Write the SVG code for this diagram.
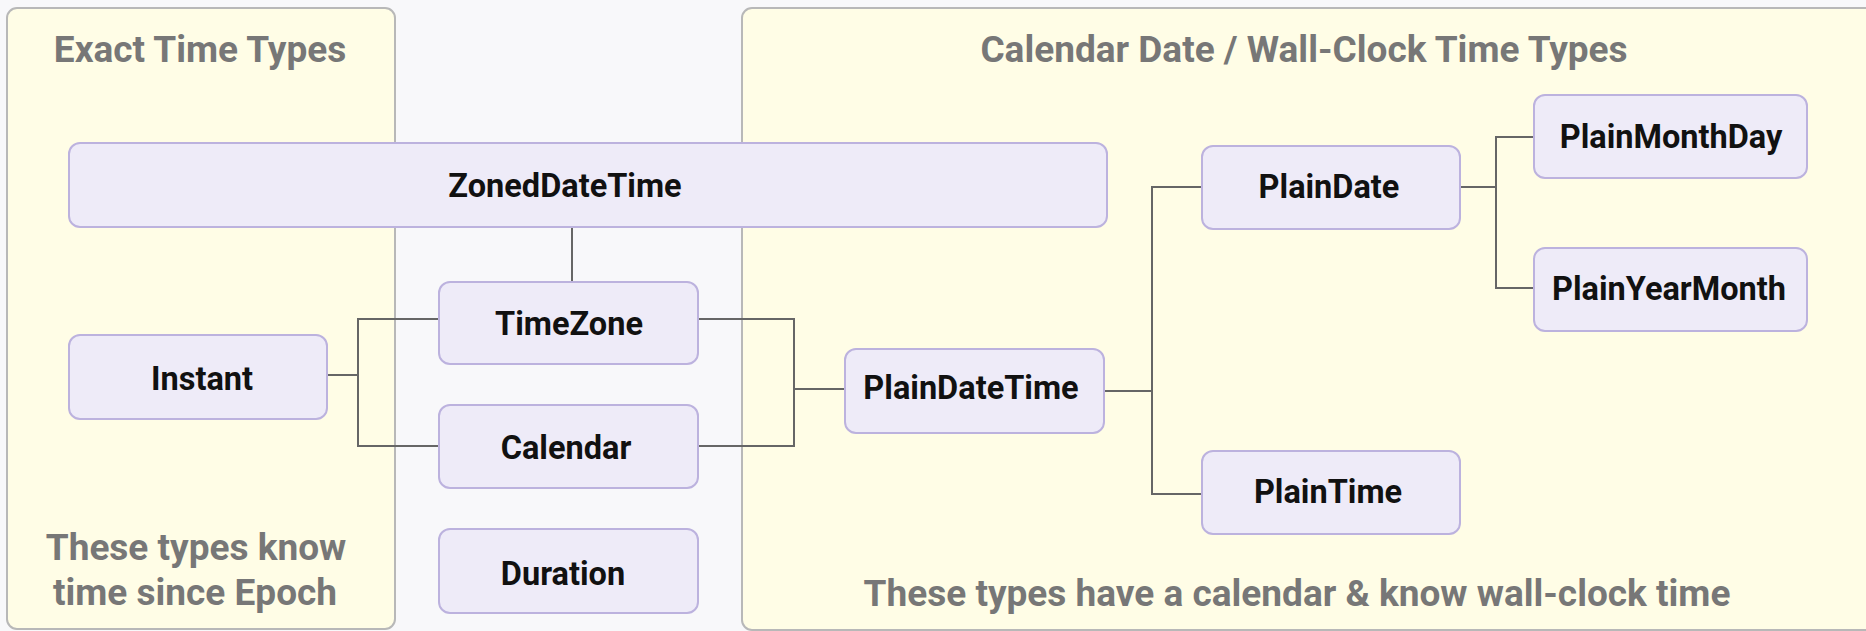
<svg xmlns="http://www.w3.org/2000/svg" width="1866" height="631" viewBox="0 0 1866 631">
  <style>
    .bg { fill: #f8f8fa; }
    .panel { fill: #fffde6; stroke: #b8b8b8; stroke-width: 2; }
    .panel-title { font-family: Roboto, "Liberation Sans", sans-serif; font-weight: 700; font-size: 37px; fill: #777777; text-anchor: middle; }
    .node rect { fill: #eeebf8; stroke: #bcb2de; stroke-width: 2; }
    .node text { font-family: Roboto, "Liberation Sans", sans-serif; font-weight: 700; font-size: 32.5px; fill: #111111; text-anchor: middle; }
    .edge { fill: none; stroke: #666666; stroke-width: 2; }
  </style>

  <rect class="bg" x="0" y="0" width="1866" height="631"/>

  <!-- Groupings -->
  <g id="exact-time-panel">
    <rect class="panel" x="7" y="8" width="388" height="621" rx="10" ry="10"/>
    <text class="panel-title" x="200" y="62">Exact Time Types</text>
    <text class="panel-title" x="196" y="560">These types know</text>
    <text class="panel-title" x="195" y="605">time since Epoch</text>
  </g>
  <g id="calendar-panel">
    <rect class="panel" x="742" y="8" width="1140" height="622" rx="10" ry="10"/>
    <text class="panel-title" x="1304" y="62">Calendar Date / Wall-Clock Time Types</text>
    <text class="panel-title" x="1297" y="606">These types have a calendar &amp; know wall-clock time</text>
  </g>

  <!-- Connectors -->
  <g id="connectors">
    <path class="edge" d="M572,227 V282"/>
    <path class="edge" d="M327,375 H358 V319 H439"/>
    <path class="edge" d="M358,375 V446 H439"/>
    <path class="edge" d="M698,319 H794 V389 H845"/>
    <path class="edge" d="M698,446 H794 V389"/>
    <path class="edge" d="M1104,391 H1152 V187 H1202"/>
    <path class="edge" d="M1152,391 V494 H1202"/>
    <path class="edge" d="M1460,187 H1496 V137 H1534"/>
    <path class="edge" d="M1496,187 V288 H1534"/>
  </g>

  <!-- Nodes -->
  <g id="ZonedDateTime" class="node">
    <rect x="69" y="143" width="1038" height="84" rx="11" ry="11"/>
    <text x="565" y="197">ZonedDateTime</text>
  </g>
  <g id="TimeZone" class="node">
    <rect x="439" y="282" width="259" height="82" rx="11" ry="11"/>
    <text x="569" y="335">TimeZone</text>
  </g>
  <g id="Instant" class="node">
    <rect x="69" y="335" width="258" height="84" rx="11" ry="11"/>
    <text x="202" y="390">Instant</text>
  </g>
  <g id="Calendar" class="node">
    <rect x="439" y="405" width="259" height="83" rx="11" ry="11"/>
    <text x="566" y="459">Calendar</text>
  </g>
  <g id="Duration" class="node">
    <rect x="439" y="529" width="259" height="84" rx="11" ry="11"/>
    <text x="563" y="585">Duration</text>
  </g>
  <g id="PlainDateTime" class="node">
    <rect x="845" y="349" width="259" height="84" rx="11" ry="11"/>
    <text x="971" y="399">PlainDateTime</text>
  </g>
  <g id="PlainDate" class="node">
    <rect x="1202" y="146" width="258" height="83" rx="11" ry="11"/>
    <text x="1329" y="198">PlainDate</text>
  </g>
  <g id="PlainTime" class="node">
    <rect x="1202" y="451" width="258" height="83" rx="11" ry="11"/>
    <text x="1328" y="503">PlainTime</text>
  </g>
  <g id="PlainMonthDay" class="node">
    <rect x="1534" y="95" width="273" height="83" rx="11" ry="11"/>
    <text x="1671" y="148">PlainMonthDay</text>
  </g>
  <g id="PlainYearMonth" class="node">
    <rect x="1534" y="248" width="273" height="83" rx="11" ry="11"/>
    <text x="1669" y="300">PlainYearMonth</text>
  </g>
</svg>
